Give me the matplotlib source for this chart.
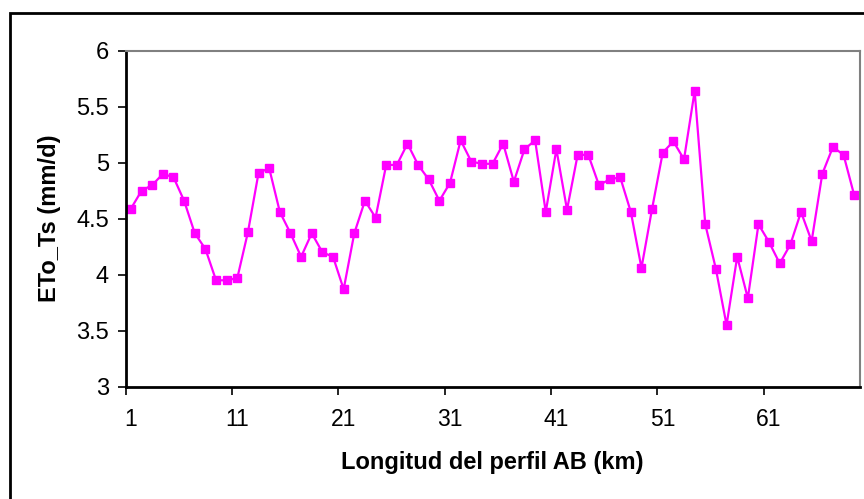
import matplotlib
matplotlib.use("Agg")
import matplotlib.pyplot as plt
from matplotlib.patches import Rectangle
import numpy as np

# Datos (69 puntos, 1 km cada uno)
km = np.arange(1, 70)
eto_ts = [4.59, 4.75, 4.80, 4.90, 4.87, 4.66, 4.37, 4.23, 3.95, 3.95,
          3.97, 4.38, 4.91, 4.95, 4.56, 4.37, 4.16, 4.37, 4.20, 4.16,
          3.87, 4.37, 4.66, 4.51, 4.98, 4.98, 5.17, 4.98, 4.85, 4.66,
          4.82, 5.20, 5.01, 4.99, 4.99, 5.17, 4.83, 5.12, 5.20, 4.56,
          5.12, 4.58, 5.07, 5.07, 4.80, 4.85, 4.87, 4.56, 4.06, 4.59,
          5.09, 5.19, 5.03, 5.64, 4.45, 4.05, 3.55, 4.16, 3.79, 4.45,
          4.29, 4.10, 4.27, 4.56, 4.30, 4.90, 5.14, 5.07, 4.71]
x_labels = [1, 11, 21, 31, 41, 51, 61]
y_ticks = [3, 3.5, 4, 4.5, 5, 5.5, 6]

plt.rcParams['font.family'] = ['Liberation Sans', 'DejaVu Sans']

fig = plt.figure(figsize=(8.64, 4.99), dpi=100)
ax = fig.add_axes([0.1454, 0.2251, 0.8494, 0.6733])

ax.plot(km, eto_ts, color='#FF00FF', lw=1.6, marker='s', ms=5.5,
        markerfacecolor='#FF00FF', markeredgecolor='#FF00FF', clip_on=False)

ax.set_xlim(0.5, 69.5)
ax.set_ylim(3, 6)

# ticks entre categorias, etiquetas centradas en la categoria
ax.set_xticks([v - 0.5 for v in x_labels])
ax.set_xticklabels([])
ax.set_xticks(x_labels, minor=True)
ax.set_xticklabels([str(v) for v in x_labels], minor=True)
ax.tick_params(axis='x', which='major', direction='out', length=6, width=1.2, color='black')
ax.tick_params(axis='x', which='minor', length=0, pad=15.5, labelsize=16.5)

ax.set_yticks(y_ticks)
ax.set_yticklabels(['3', '3.5', '4', '4.5', '5', '5.5', '6'])
ax.tick_params(axis='y', direction='out', length=6, width=1.2, pad=6, labelsize=17)

for s in ['left', 'bottom']:
    ax.spines[s].set_color('black')
    ax.spines[s].set_linewidth(2)
for s in ['top', 'right']:
    ax.spines[s].set_color('#808080')
    ax.spines[s].set_linewidth(1.5)

ax.set_xlabel('Longitud del perfil AB (km)', fontsize=17, fontweight='bold')
ax.xaxis.label.set_va('center')
ax.xaxis.set_label_coords(0.5, -0.225)
ax.set_ylabel('ETo_Ts (mm/d)', fontsize=17, fontweight='bold')
ax.yaxis.label.set_va('center')
ax.yaxis.set_label_coords(-0.104, 0.5)

# marco exterior del grafico (cortado a la derecha y abajo)
fig.patches.append(Rectangle((9.5 / 864, -0.1), 1.2, (499 - 13) / 499 + 0.1,
                             transform=fig.transFigure, fill=False,
                             edgecolor='black', lw=2))

fig.savefig('out.png', dpi=100)
